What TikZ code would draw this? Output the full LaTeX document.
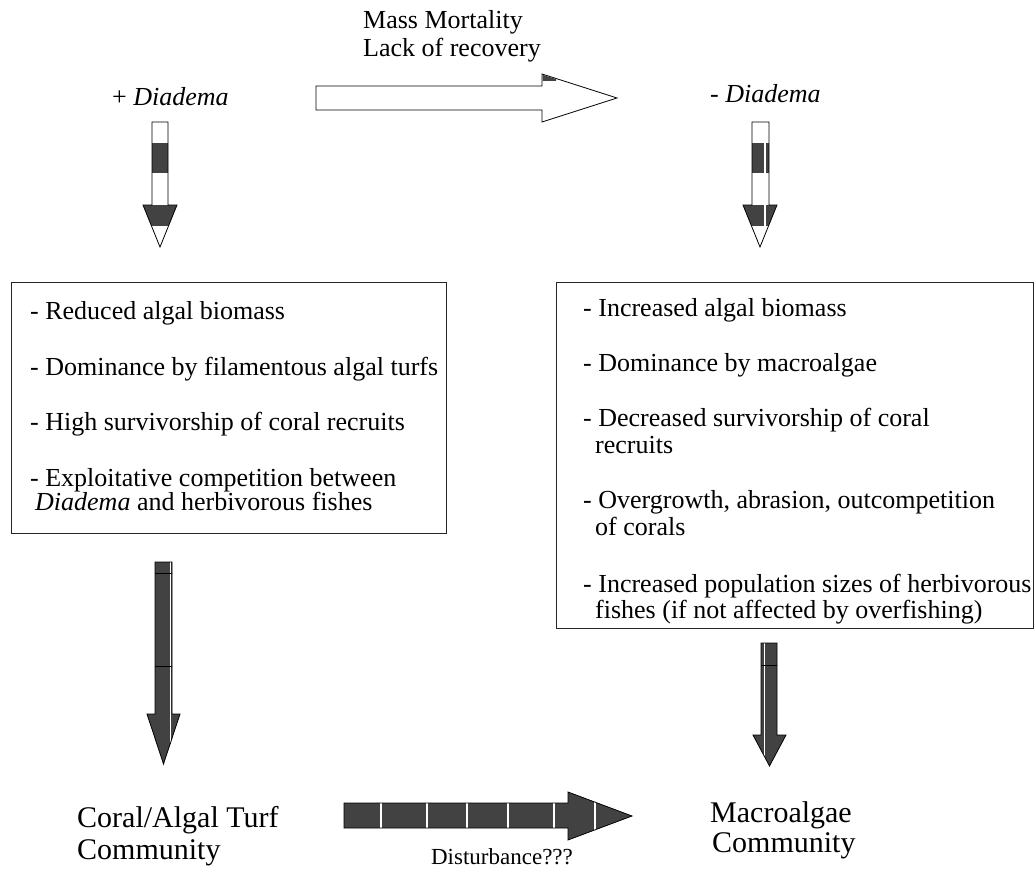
\documentclass[tikz,border=0pt]{standalone}
\usepackage{fontspec}
\setmainfont{Liberation Serif}
\begin{document}
\begin{tikzpicture}[x=1pt,y=-1pt,
  txt/.style={anchor=base west,inner sep=0pt,font=\fontsize{26}{28}\selectfont},
  bigtxt/.style={anchor=base west,inner sep=0pt,font=\fontsize{30}{32}\selectfont},
  smalltxt/.style={anchor=base,inner sep=0pt,font=\fontsize{23}{25}\selectfont},
  frame/.style={draw=black!85,line width=0.9pt},
  outline/.style={draw=black,line width=0.8pt},
  dark/.style={fill=black!74},
  stripe/.style={draw=white,line width=1.1pt}]
\useasboundingbox (0,0) rectangle (1034,882);

% ---- texts at top
\node[txt] (mm) at (363,29) {Mass Mortality};
\node[txt] (lr) at (363,57) {Lack of recovery};
\node[txt] (pd) at (112,106) {+ \textit{Diadema}};
\node[txt] (md) at (710,103) {- \textit{Diadema}};

% ---- top open arrow
\filldraw[fill=white,outline] (316,86) -- (542,86) -- (542,74) -- (617,98) -- (542,122) -- (542,110) -- (316,110) -- cycle;
\fill[dark] (542.6,74.8) -- (556,79) -- (556,81) -- (542.6,81) -- cycle;

% ---- left small arrow
\begin{scope}
  \path[fill=white] (152,122) -- (168,122) -- (168,205) -- (177,205) -- (160,247) -- (143,205) -- (152,205) -- cycle;
  \clip (152,122) -- (168,122) -- (168,205) -- (177,205) -- (160,247) -- (143,205) -- (152,205) -- cycle;
  \fill[dark] (140,143) rectangle (180,173);
  \fill[dark] (140,205) rectangle (180,226);
\end{scope}
\draw[outline] (152,122) -- (168,122) -- (168,205) -- (177,205) -- (160,247) -- (143,205) -- (152,205) -- cycle;

% ---- right small arrow
\begin{scope}
  \path[fill=white] (752,122) -- (769,122) -- (769,205) -- (777,205) -- (760,247) -- (743,205) -- (752,205) -- cycle;
  \clip (752,122) -- (769,122) -- (769,205) -- (777,205) -- (760,247) -- (743,205) -- (752,205) -- cycle;
  \fill[dark] (740,143) rectangle (780,173);
  \fill[dark] (740,205) rectangle (780,226);
  \draw[stripe] (765,143) -- (765,173);
  \draw[stripe] (765,205) -- (765,226);
\end{scope}
\draw[outline] (752,122) -- (769,122) -- (769,205) -- (777,205) -- (760,247) -- (743,205) -- (752,205) -- cycle;

% ---- boxes
\draw[frame] (11,282) rectangle (446,533);
\draw[frame] (556,282) rectangle (1033,628);

\node[txt] (l1) at (30,320) {- Reduced algal biomass};
\node[txt] (l2) at (30,376) {- Dominance by filamentous algal turfs};
\node[txt] (l3) at (30,431) {- High survivorship of coral recruits};
\node[txt] (l4) at (30,486) {- Exploitative competition between};
\node[txt] (l5) at (35,511) {\textit{Diadema} and herbivorous fishes};

\node[txt] (r1) at (583,317) {- Increased algal biomass};
\node[txt] (r2) at (583,372) {- Dominance by macroalgae};
\node[txt] (r3) at (583,427) {- Decreased survivorship of coral};
\node[txt] (r3b) at (595,454) {recruits};
\node[txt] (r4) at (583,508) {- Overgrowth, abrasion, outcompetition};
\node[txt] (r4b) at (595,536) {of corals};
\node[txt] (r5) at (583,592) {- Increased population sizes of herbivorous};
\node[txt] (r5b) at (595,618) {fishes (if not affected by overfishing)};

% ---- left big arrow
\begin{scope}
  \clip (155,562) -- (172,562) -- (172,714) -- (180,714) -- (163.5,764) -- (147,714) -- (155,714) -- cycle;
  \fill[dark] (140,560) rectangle (190,770);
  \draw[stripe] (170.3,562) -- (170.3,760);
  \draw[black,line width=0.8pt] (150,573) -- (175,573);
  \draw[black,line width=0.8pt] (150,666) -- (175,666);
\end{scope}
\draw[outline] (155,562) -- (172,562) -- (172,714) -- (180,714) -- (163.5,764) -- (147,714) -- (155,714) -- cycle;

% ---- right big arrow
\begin{scope}
  \clip (761,643) -- (777,643) -- (777,735) -- (786,735) -- (769.5,766) -- (753,735) -- (761,735) -- cycle;
  \fill[dark] (750,640) rectangle (790,770);
  \draw[stripe] (764.5,643) -- (764.5,766);
  \draw[black,line width=0.8pt] (755,665) -- (780,665);
\end{scope}
\draw[outline] (761,643) -- (777,643) -- (777,735) -- (786,735) -- (769.5,766) -- (753,735) -- (761,735) -- cycle;

% ---- bottom horizontal arrow
\begin{scope}
  \clip (344,803) -- (568,803) -- (568,792) -- (632,816) -- (568,840) -- (568,828) -- (344,828) -- cycle;
  \fill[dark] (340,785) rectangle (640,845);
  \foreach \sx in {381,427,467,508,554,595} \draw[stripe] (\sx,785) -- (\sx,845);
\end{scope}
\draw[outline] (344,803) -- (568,803) -- (568,792) -- (632,816) -- (568,840) -- (568,828) -- (344,828) -- cycle;

% ---- bottom labels
\node[bigtxt] (c1) at (77,827) {Coral/Algal Turf};
\node[bigtxt] (c2) at (77,859) {Community};
\node[bigtxt] (m1) at (710,822) {Macroalgae};
\node[bigtxt] (m2) at (712,852) {Community};
\node[smalltxt] (dist) at (502,864) {Disturbance???};
\end{tikzpicture}
\end{document}
